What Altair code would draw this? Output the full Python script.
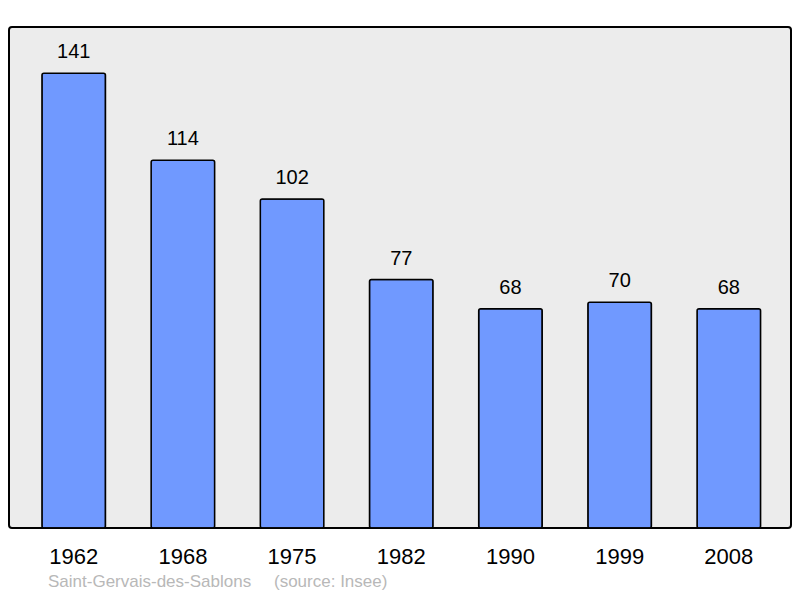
import altair as alt
import pandas as pd

years = ["1962", "1968", "1975", "1982", "1990", "1999", "2008"]
population = [141, 114, 102, 77, 68, 70, 68]
place = "Saint-Gervais-des-Sablons"
source = "(source: Insee)"

df = pd.DataFrame({"year": years, "pop": population})

x = alt.X("year:N", sort=years,
          scale=alt.Scale(paddingInner=0.418, paddingOuter=0.29, align=0.52),
          axis=alt.Axis(title=None, labelAngle=0, labelFontSize=22, labelFont="Liberation Sans",
                        labelColor="black", ticks=False, domain=False, labelPadding=18))
y = alt.Y("pop:Q", scale=alt.Scale(domain=[0, 155.3], nice=False, zero=True), axis=None)

bars = alt.Chart(df).mark_bar(color="#7099ff", stroke="black", strokeWidth=1.5,
                              cornerRadius=2).encode(x=x, y=y)
labels = alt.Chart(df).mark_text(dy=-21, fontSize=20, font="Liberation Sans",
                                 color="black").encode(x=x, y=y, text="pop:Q")

foot1 = alt.Chart(pd.DataFrame({"t": [place]})).mark_text(
    align="left", baseline="middle", fontSize=17, font="Liberation Sans", color="#b8b8b8"
).encode(x=alt.value(39), y=alt.value(555), text="t:N")
foot2 = alt.Chart(pd.DataFrame({"t": [source]})).mark_text(
    align="left", baseline="middle", fontSize=17, font="Liberation Sans", color="#b8b8b8"
).encode(x=alt.value(265), y=alt.value(555), text="t:N")

chart = alt.layer(bars, labels, foot1, foot2).properties(
    width=782, height=501,
    padding={"left": 1, "top": 19, "right": 1, "bottom": 62},
    autosize=alt.AutoSizeParams(type="none"),
    background="white",
).configure_view(fill="#ececec", stroke="black", strokeWidth=2, cornerRadius=3)

chart.save("out.html", embed_options={"renderer": "svg", "actions": False})
